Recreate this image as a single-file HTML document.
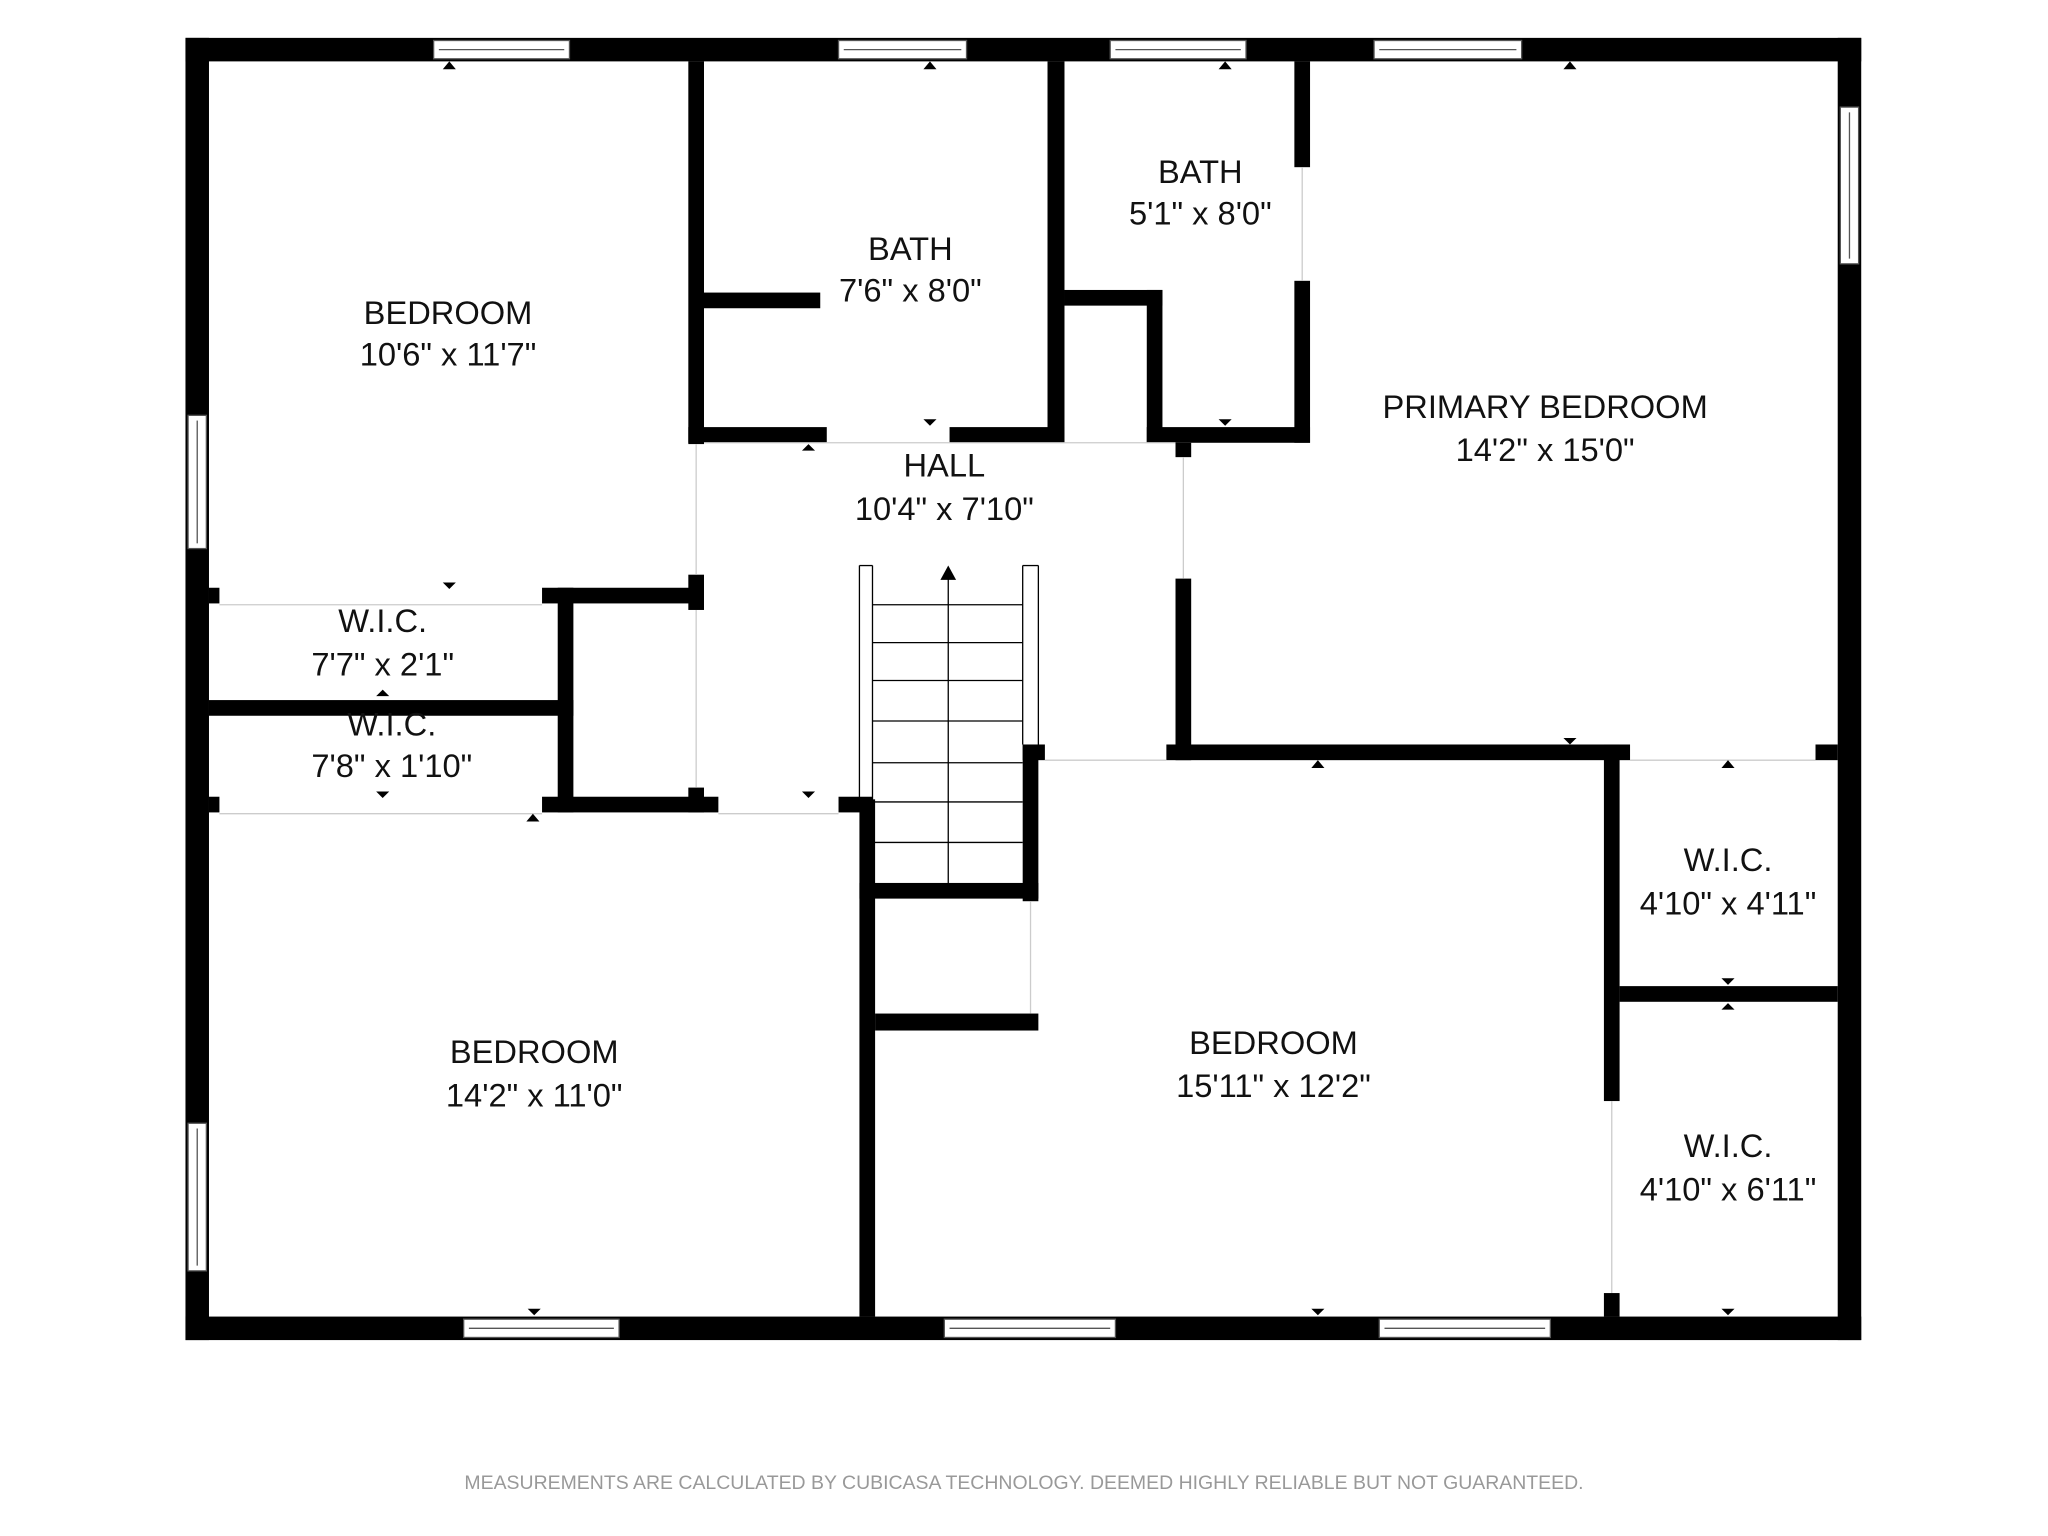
<!DOCTYPE html>
<html><head><meta charset="utf-8"><style>
html,body{margin:0;padding:0;background:#fff;}
svg{display:block;}
text{font-family:"Liberation Sans",sans-serif;fill:#111;text-anchor:middle;}
</style></head><body>
<svg width="2048" height="1536" viewBox="0 0 1568 1176" xmlns="http://www.w3.org/2000/svg">
<rect width="1568" height="1176" fill="#fff"/>
<g fill="#000">
<rect x="142" y="29" width="1283" height="18"/>
<rect x="142" y="1008" width="1283" height="18"/>
<rect x="142" y="29" width="18" height="997"/>
<rect x="1407" y="29" width="18" height="997"/>
<rect x="527" y="47" width="12" height="293"/>
<rect x="527" y="440" width="12" height="27"/>
<rect x="527" y="603" width="12" height="19"/>
<rect x="539" y="224" width="89" height="12"/>
<rect x="527" y="327" width="106" height="12"/>
<rect x="727" y="327" width="88" height="12"/>
<rect x="802" y="47" width="13" height="292"/>
<rect x="815" y="222" width="75" height="12"/>
<rect x="878" y="222" width="12" height="117"/>
<rect x="878" y="327" width="125" height="12"/>
<rect x="991" y="47" width="12" height="81"/>
<rect x="991" y="215" width="12" height="124"/>
<rect x="900" y="339" width="12" height="11"/>
<rect x="900" y="443" width="12" height="139"/>
<rect x="893" y="570" width="355" height="12"/>
<rect x="1390" y="570" width="17" height="12"/>
<rect x="1228" y="570" width="12" height="273"/>
<rect x="1228" y="990" width="12" height="18"/>
<rect x="1240" y="755" width="167" height="12"/>
<rect x="783" y="570" width="12" height="120"/>
<rect x="783" y="570" width="17" height="12"/>
<rect x="658" y="676" width="137" height="12"/>
<rect x="658" y="612" width="12" height="396"/>
<rect x="670" y="776" width="125" height="13"/>
<rect x="415" y="610" width="135" height="12"/>
<rect x="642" y="610" width="26" height="12"/>
<rect x="415" y="450" width="124" height="12"/>
<rect x="427" y="450" width="12" height="172"/>
<rect x="160" y="536" width="279" height="12"/>
<rect x="160" y="450" width="8" height="12"/>
<rect x="160" y="610" width="8" height="12"/>
</g>
<g fill="#fff" stroke="#555" stroke-width="1">
<rect x="332" y="31" width="104" height="14"/><line x1="336" y1="38" x2="432" y2="38"/>
<rect x="642" y="31" width="98" height="14"/><line x1="646" y1="38" x2="736" y2="38"/>
<rect x="850" y="31" width="104" height="14"/><line x1="854" y1="38" x2="950" y2="38"/>
<rect x="1052" y="31" width="113" height="14"/><line x1="1056" y1="38" x2="1161" y2="38"/>
<rect x="355" y="1010" width="119" height="14"/><line x1="359" y1="1017" x2="470" y2="1017"/>
<rect x="723" y="1010" width="131" height="14"/><line x1="727" y1="1017" x2="850" y2="1017"/>
<rect x="1056" y="1010" width="131" height="14"/><line x1="1060" y1="1017" x2="1183" y2="1017"/>
<rect x="144" y="318" width="14" height="102"/><line x1="151" y1="322" x2="151" y2="416"/>
<rect x="144" y="860" width="14" height="113"/><line x1="151" y1="864" x2="151" y2="969"/>
<rect x="1409" y="82" width="14" height="120"/><line x1="1416" y1="86" x2="1416" y2="198"/>
</g>
<g stroke="#ccc" stroke-width="1">
<line x1="168" y1="463" x2="415" y2="463"/>
<line x1="168" y1="623" x2="415" y2="623"/>
<line x1="550" y1="623" x2="642" y2="623"/>
<line x1="539" y1="339" x2="900" y2="339"/>
<line x1="800" y1="582" x2="893" y2="582"/>
<line x1="1248" y1="582" x2="1390" y2="582"/>
<line x1="533" y1="340" x2="533" y2="440"/>
<line x1="533" y1="467" x2="533" y2="603"/>
<line x1="906" y1="350" x2="906" y2="443"/>
<line x1="997" y1="128" x2="997" y2="215"/>
<line x1="1234" y1="843" x2="1234" y2="990"/>
<line x1="789" y1="690" x2="789" y2="776"/>
</g>
<g stroke="#000" stroke-width="1" fill="none">
<line x1="658" y1="433" x2="658" y2="612"/>
<line x1="668" y1="433" x2="668" y2="676"/>
<line x1="783" y1="433" x2="783" y2="570"/>
<line x1="795" y1="433" x2="795" y2="570"/>
<line x1="658" y1="433" x2="668" y2="433"/>
<line x1="783" y1="433" x2="795" y2="433"/>
<line x1="668" y1="463" x2="783" y2="463"/>
<line x1="668" y1="492" x2="783" y2="492"/>
<line x1="668" y1="521" x2="783" y2="521"/>
<line x1="668" y1="552" x2="783" y2="552"/>
<line x1="668" y1="584" x2="783" y2="584"/>
<line x1="668" y1="614" x2="783" y2="614"/>
<line x1="668" y1="645" x2="783" y2="645"/>
<line x1="726" y1="440" x2="726" y2="676"/>
</g>
<polygon points="726,433 720,444 732,444" fill="#000"/>
<g fill="#000">
<polygon points="339,53 349,53 344,47"/><polygon points="707,53 717,53 712,47"/><polygon points="933,53 943,53 938,47"/><polygon points="1197,53 1207,53 1202,47"/>
<polygon points="339,446 349,446 344,451"/><polygon points="707,321 717,321 712,326"/><polygon points="933,321 943,321 938,326"/>
<polygon points="614,345 624,345 619,340"/><polygon points="614,606 624,606 619,611"/><polygon points="1197,565 1207,565 1202,570"/>
<polygon points="1004,588 1014,588 1009,582"/><polygon points="1318,588 1328,588 1323,582"/><polygon points="403,629 413,629 408,623"/>
<polygon points="288,606 298,606 293,611"/><polygon points="288,533 298,533 293,528"/>
<polygon points="1318,749 1328,749 1323,754"/><polygon points="1318,773 1328,773 1323,768"/>
<polygon points="404,1002 414,1002 409,1007"/><polygon points="1004,1002 1014,1002 1009,1007"/><polygon points="1318,1002 1328,1002 1323,1007"/>
</g>
<g font-size="25">
<text x="343" y="248">BEDROOM</text><text x="343" y="280">10'6" x 11'7"</text>
<text x="697" y="199">BATH</text><text x="697" y="231">7'6" x 8'0"</text>
<text x="919" y="140">BATH</text><text x="919" y="172">5'1" x 8'0"</text>
<text x="1183" y="320">PRIMARY BEDROOM</text><text x="1183" y="353">14'2" x 15'0"</text>
<text x="723" y="365">HALL</text><text x="723" y="398">10'4" x 7'10"</text>
<text x="293" y="484">W.I.C.</text><text x="293" y="517">7'7" x 2'1"</text>
<text x="300" y="563">W.I.C.</text><text x="300" y="595">7'8" x 1'10"</text>
<text x="409" y="814">BEDROOM</text><text x="409" y="847">14'2" x 11'0"</text>
<text x="975" y="807">BEDROOM</text><text x="975" y="840">15'11" x 12'2"</text>
<text x="1323" y="667">W.I.C.</text><text x="1323" y="700">4'10" x 4'11"</text>
<text x="1323" y="886">W.I.C.</text><text x="1323" y="919">4'10" x 6'11"</text>
</g>
<text x="784" y="1140" font-size="14.9" style="fill:#999">MEASUREMENTS ARE CALCULATED BY CUBICASA TECHNOLOGY. DEEMED HIGHLY RELIABLE BUT NOT GUARANTEED.</text>
</svg>
</body></html>
